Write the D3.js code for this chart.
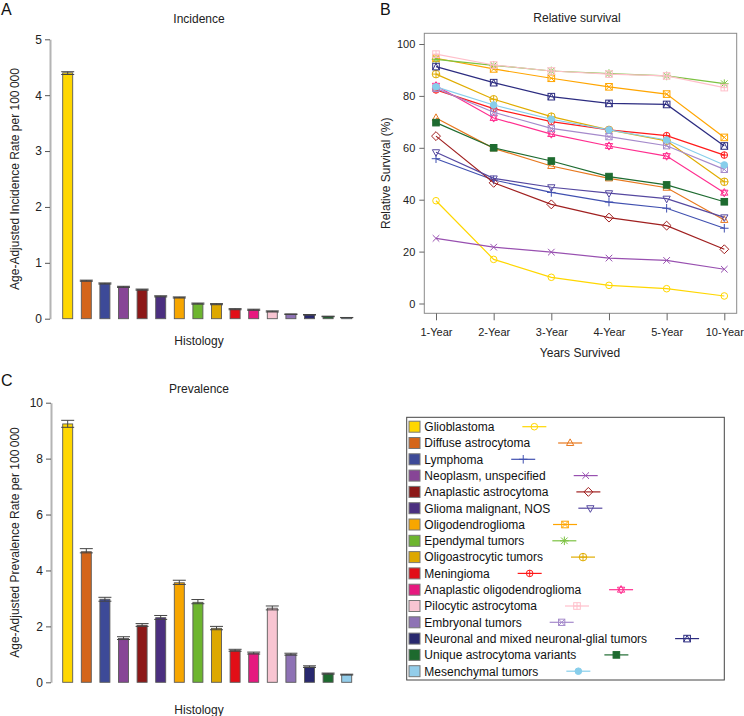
<!DOCTYPE html>
<html>
<head>
<meta charset="utf-8">
<script src="https://cdn.jsdelivr.net/npm/d3@7"></script>
<style>
  html, body { margin: 0; padding: 0; background: #fff; }
  svg { display: block; font-family: "Liberation Sans", Arial, Helvetica, sans-serif; }
</style>
</head>
<body>
<svg id="chart" width="744" height="716"></svg>
<script>
// ---------------- DATA ----------------
const categories = [
  "Glioblastoma", "Diffuse astrocytoma", "Lymphoma", "Neoplasm, unspecified",
  "Anaplastic astrocytoma", "Glioma malignant, NOS", "Oligodendroglioma", "Ependymal tumors",
  "Oligoastrocytic tumors", "Meningioma", "Anaplastic oligodendroglioma", "Pilocytic astrocytoma",
  "Embryonal tumors", "Neuronal and mixed neuronal-glial tumors", "Unique astrocytoma variants", "Mesenchymal tumors"
];
const incidence   = [4.40, 0.68, 0.63, 0.57, 0.52, 0.40, 0.38, 0.27, 0.26, 0.17, 0.16, 0.13, 0.08, 0.07, 0.04, 0.02];
const incidenceLo = [4.37, 0.67, 0.62, 0.56, 0.51, 0.39, 0.37, 0.26, 0.25, 0.16, 0.15, 0.12, 0.075, 0.065, 0.035, 0.018];
const incidenceHi = [4.42, 0.69, 0.64, 0.58, 0.53, 0.41, 0.39, 0.28, 0.27, 0.18, 0.17, 0.14, 0.085, 0.075, 0.045, 0.022];
const prevalence   = [9.24, 4.67, 2.97, 1.57, 2.04, 2.31, 3.56, 2.86, 1.93, 1.14, 1.04, 2.65, 1.00, 0.55, 0.31, 0.27];
const prevalenceLo = [9.12, 4.63, 2.90, 1.53, 2.00, 2.25, 3.50, 2.81, 1.88, 1.11, 1.01, 2.59, 0.97, 0.53, 0.29, 0.26];
const prevalenceHi = [9.37, 4.78, 3.04, 1.63, 2.10, 2.39, 3.65, 2.96, 2.00, 1.18, 1.08, 2.73, 1.04, 0.59, 0.33, 0.29];
const years = ["1-Year", "2-Year", "3-Year", "4-Year", "5-Year", "10-Year"];
const survival = [
  [39.6, 17.0, 10.1, 7.0, 5.7, 2.9],    // Glioblastoma
  [71.5, 59.8, 53.0, 48.2, 44.6, 32.2], // Diffuse astrocytoma
  [55.8, 47.6, 42.8, 39.1, 36.7, 29.0], // Lymphoma
  [25.1, 21.7, 19.8, 17.5, 16.6, 13.2], // Neoplasm, unspecified
  [64.5, 46.5, 38.2, 33.1, 30.0, 20.9], // Anaplastic astrocytoma
  [58.3, 48.2, 44.8, 42.5, 40.4, 33.2], // Glioma malignant, NOS
  [94.5, 90.4, 86.8, 83.5, 80.7, 64.0], // Oligodendroglioma
  [94.1, 91.8, 89.6, 88.6, 87.7, 84.7], // Ependymal tumors
  [88.4, 78.7, 72.0, 66.9, 62.7, 46.9], // Oligoastrocytic tumors
  [82.3, 75.1, 70.1, 66.9, 64.7, 57.2], // Meningioma
  [83.9, 71.5, 65.3, 60.7, 56.8, 42.7], // Anaplastic oligodendroglioma
  [96.1, 91.9, 89.6, 88.4, 87.7, 83.2], // Pilocytic astrocytoma
  [82.9, 73.7, 67.5, 64.3, 60.8, 51.7], // Embryonal tumors
  [91.3, 85.1, 79.7, 77.1, 76.7, 60.7], // Neuronal and mixed
  [69.7, 60.0, 54.9, 48.9, 45.7, 39.2], // Unique astrocytoma variants
  [83.5, 76.5, 71.0, 66.9, 63.0, 53.4]  // Mesenchymal tumors
];
const incidenceTicks = [0, 1, 2, 3, 4, 5];
const prevalenceTicks = [0, 2, 4, 6, 8, 10];
const survivalTicks = [0, 20, 40, 60, 80, 100];

// ---------------- STYLES ----------------
const barColors = ["#FFD700", "#D4651A", "#3D4A98", "#874596", "#8C1818", "#4B2F80", "#F7A600", "#6DB52F",
  "#DDA800", "#E20E17", "#E6197F", "#F8C5D2", "#8E72B5", "#28286E", "#1D6A2E", "#93CDEA"];
const lineColors = ["#FFD700", "#E8781E", "#4050B0", "#9850B0", "#A02020", "#5548A0", "#FFA500", "#7CC242",
  "#E0AC00", "#FF1A1A", "#FF2E8F", "#FFC0CB", "#A58ACB", "#2C2C80", "#1E6B30", "#87CEEB"];
const pchs = [1, 2, 3, 4, 5, 6, 7, 8, 9, 10, 11, 12, 13, 14, 15, 16];

const svg = d3.select("#chart");
const FONT = 12;

function marker(g, pch, x, y, color) {
  const r = 3.3;
  const m = g.append("g").attr("transform", `translate(${x},${y})`)
    .attr("fill", "none").attr("stroke", color).attr("stroke-width", 1);
  const line = (x1, y1, x2, y2) => m.append("line").attr("x1", x1).attr("y1", y1).attr("x2", x2).attr("y2", y2);
  const circ = (rr) => m.append("circle").attr("r", rr);
  const sq = (s) => m.append("rect").attr("x", -s).attr("y", -s).attr("width", 2 * s).attr("height", 2 * s);
  const triUp = `M0,${-r * 1.25}L${r * 1.1},${r * 0.75}L${-r * 1.1},${r * 0.75}Z`;
  const triDn = `M0,${r * 1.25}L${r * 1.1},${-r * 0.75}L${-r * 1.1},${-r * 0.75}Z`;
  switch (pch) {
    case 1: circ(r); break;
    case 2: m.append("path").attr("d", triUp); break;
    case 3: line(-r * 1.3, 0, r * 1.3, 0); line(0, -r * 1.3, 0, r * 1.3); break;
    case 4: line(-r, -r, r, r); line(-r, r, r, -r); break;
    case 5: m.append("path").attr("d", `M0,${-r * 1.35}L${r * 1.35},0L0,${r * 1.35}L${-r * 1.35},0Z`); break;
    case 6: m.append("path").attr("d", triDn); break;
    case 7: sq(r); line(-r, -r, r, r); line(-r, r, r, -r); break;
    case 8: line(-r * 1.3, 0, r * 1.3, 0); line(0, -r * 1.3, 0, r * 1.3); line(-r, -r, r, r); line(-r, r, r, -r); break;
    case 9: circ(r * 1.15); line(-r * 1.15, 0, r * 1.15, 0); line(0, -r * 1.15, 0, r * 1.15); break;
    case 10: circ(r); line(-r, 0, r, 0); line(0, -r, 0, r); break;
    case 11: m.append("path").attr("d", triUp); m.append("path").attr("d", triDn); break;
    case 12: sq(r); line(-r, 0, r, 0); line(0, -r, 0, r); break;
    case 13: sq(r * 0.95); line(-r * 0.95, -r * 0.95, r * 0.95, r * 0.95); line(-r * 0.95, r * 0.95, r * 0.95, -r * 0.95); break;
    case 14: sq(r); m.append("path").attr("d", `M${-r},${r}L0,${-r}L${r},${r}`); break;
    case 15: sq(r).attr("fill", color); break;
    case 16: circ(r).attr("fill", color); break;
  }
}

function barPanel(opts) {
  const g = svg.append("g");
  const x = d3.scaleBand().domain(categories).range([62.7, 351.7]).paddingInner(0.4624).paddingOuter(0);
  const y = d3.scaleLinear().domain(opts.domain).range([opts.y0, opts.y1]);
  const ax = g.append("g").attr("transform", `translate(${opts.axisX},0)`)
    .call(d3.axisLeft(y).tickValues(opts.ticks).tickFormat(d3.format("d"))
      .tickSize(5).tickSizeOuter(0).tickPadding(3));
  ax.select(".domain").attr("stroke", "#b4b4b4").attr("stroke-width", 2);
  ax.selectAll(".tick line").attr("stroke", "#555");
  ax.selectAll(".tick text").attr("font-size", FONT).attr("fill", "#222").attr("font-family", null);
  g.selectAll("rect.bar").data(categories).join("rect")
    .attr("class", "bar")
    .attr("x", d => x(d)).attr("width", x.bandwidth())
    .attr("y", (d, i) => y(opts.values[i]))
    .attr("height", (d, i) => y(0) - y(opts.values[i]))
    .attr("fill", (d, i) => barColors[i])
    .attr("stroke", "#5a5a5a").attr("stroke-width", 0.9);
  // error bars
  const eb = g.selectAll("g.eb").data(categories).join("g").attr("class", "eb")
    .attr("stroke", "#444").attr("stroke-width", 1);
  const cw = x.bandwidth() / 2 + 1.5;
  eb.append("line").attr("x1", d => x(d) + x.bandwidth() / 2).attr("x2", d => x(d) + x.bandwidth() / 2)
    .attr("y1", (d, i) => y(opts.lo[i])).attr("y2", (d, i) => y(opts.hi[i]));
  eb.append("line").attr("x1", d => x(d) + x.bandwidth() / 2 - cw).attr("x2", d => x(d) + x.bandwidth() / 2 + cw)
    .attr("y1", (d, i) => y(opts.lo[i])).attr("y2", (d, i) => y(opts.lo[i]));
  eb.append("line").attr("x1", d => x(d) + x.bandwidth() / 2 - cw).attr("x2", d => x(d) + x.bandwidth() / 2 + cw)
    .attr("y1", (d, i) => y(opts.hi[i])).attr("y2", (d, i) => y(opts.hi[i]));
  g.append("text").attr("x", 199).attr("y", opts.titleY).attr("text-anchor", "middle")
    .attr("font-size", FONT).attr("fill", "#222").text(opts.title);
  g.append("text").attr("x", 199).attr("y", opts.xlabY).attr("text-anchor", "middle")
    .attr("font-size", FONT).attr("fill", "#222").text("Histology");
  g.append("text").attr("transform", `translate(19,${(opts.y0 + opts.y1) / 2}) rotate(-90)`)
    .attr("text-anchor", "middle").attr("font-size", FONT).attr("fill", "#222").text(opts.ylab);
  g.append("text").attr("x", 1).attr("y", opts.letterY).attr("font-size", 16).attr("fill", "#111").text(opts.letter);
}

barPanel({
  domain: [0, 5], y0: 318.7, y1: 39.3, axisX: 50, ticks: incidenceTicks,
  values: incidence, lo: incidenceLo, hi: incidenceHi,
  title: "Incidence", titleY: 22.5, xlabY: 344.5,
  ylab: "Age-Adjusted Incidence Rate per 100\u2009000", letter: "A", letterY: 15
});
barPanel({
  domain: [0, 10], y0: 682.3, y1: 402.7, axisX: 51, ticks: prevalenceTicks,
  values: prevalence, lo: prevalenceLo, hi: prevalenceHi,
  title: "Prevalence", titleY: 393, xlabY: 713.5,
  ylab: "Age-Adjusted Prevalence Rate per 100\u2009000", letter: "C", letterY: 386
});

// ---------------- PANEL B ----------------
const gB = svg.append("g");
const xB = d3.scalePoint().domain(years).range([436, 724.3]);
const yB = d3.scaleLinear().domain([0, 100]).range([303.5, 44]);
const box = { l: 424.3, r: 736.7, t: 33.3, b: 313.3 };
gB.append("rect").attr("x", box.l).attr("y", box.t).attr("width", box.r - box.l).attr("height", box.b - box.t)
  .attr("fill", "none").attr("stroke", "#8a8a8a").attr("stroke-width", 1);
const axYB = gB.append("g").attr("transform", `translate(${box.l},0)`)
  .call(d3.axisLeft(yB).tickValues(survivalTicks).tickSize(5).tickPadding(4));
axYB.select(".domain").remove();
const axXB = gB.append("g").attr("transform", `translate(0,${box.b})`)
  .call(d3.axisBottom(xB).tickSize(7).tickPadding(8));
axXB.select(".domain").remove();
[axYB, axXB].forEach(a => {
  a.selectAll(".tick line").attr("stroke", "#666");
  a.selectAll(".tick text").attr("font-size", 11).attr("fill", "#222").attr("font-family", null);
});
const lineGen = d3.line().x((d, i) => xB(years[i])).y(d => yB(d));
survival.forEach((s, k) => {
  gB.append("path").attr("d", lineGen(s)).attr("fill", "none")
    .attr("stroke", lineColors[k]).attr("stroke-width", 1.2);
  s.forEach((v, i) => marker(gB, pchs[k], xB(years[i]), yB(v), lineColors[k]));
});
gB.append("text").attr("x", 577).attr("y", 21.5).attr("text-anchor", "middle")
  .attr("font-size", FONT).attr("fill", "#222").text("Relative survival");
gB.append("text").attr("x", 580).attr("y", 356.5).attr("text-anchor", "middle")
  .attr("font-size", FONT).attr("fill", "#222").text("Years Survived");
gB.append("text").attr("transform", `translate(390,${(box.t + box.b) / 2}) rotate(-90)`)
  .attr("text-anchor", "middle").attr("font-size", FONT).attr("fill", "#222").text("Relative Survival (%)");
gB.append("text").attr("x", 380).attr("y", 15).attr("font-size", 16).attr("fill", "#111").text("B");

// ---------------- LEGEND ----------------
const gL = svg.append("g");
gL.append("rect").attr("x", 406.7).attr("y", 417.3).attr("width", 317.6).attr("height", 262.7)
  .attr("fill", "#fff").attr("stroke", "#444").attr("stroke-width", 1);
const rowY = d3.scalePoint().domain(categories).range([426.7, 671.2]);
categories.forEach((c, i) => {
  const cy = rowY(c);
  gL.append("rect").attr("x", 409).attr("y", cy - 5.5).attr("width", 11).attr("height", 11)
    .attr("fill", barColors[i]).attr("stroke", "#777").attr("stroke-width", 1);
  const t = gL.append("text").attr("x", 424.3).attr("y", cy + 4.3)
    .attr("font-size", FONT).attr("fill", "#111").text(c);
  const tEnd = 424.3 + t.node().getComputedTextLength();
  const lx = tEnd + 28;
  gL.append("line").attr("x1", lx).attr("x2", lx + 24).attr("y1", cy).attr("y2", cy)
    .attr("stroke", lineColors[i]).attr("stroke-width", 1.2);
  marker(gL, pchs[i], lx + 12, cy, lineColors[i]);
});
</script>
</body>
</html>
